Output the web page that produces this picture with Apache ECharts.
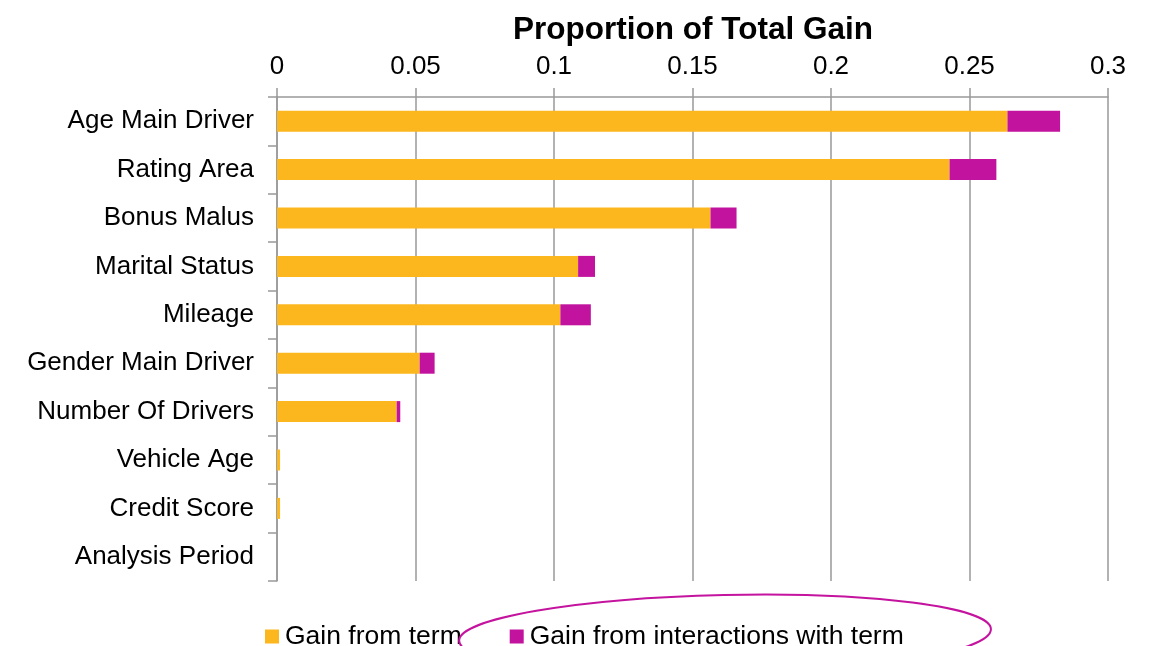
<!DOCTYPE html>
<html>
<head>
<meta charset="utf-8">
<script src="https://cdn.jsdelivr.net/npm/echarts@6/dist/echarts.min.js"></script>
<style>
  html, body { margin: 0; padding: 0; background: #ffffff; }
  #chart { width: 1155px; height: 646px; }
</style>
</head>
<body>
<div id="chart"></div>
<script>
// Variables, listed top to bottom
const categories = [
  'Age Main Driver', 'Rating Area', 'Bonus Malus', 'Marital Status', 'Mileage',
  'Gender Main Driver', 'Number Of Drivers', 'Vehicle Age', 'Credit Score', 'Analysis Period'
];
// Share of total gain coming from the term itself
const gainFromTerm = [0.2637, 0.2428, 0.1565, 0.1087, 0.1023, 0.0515, 0.0432, 0.0011, 0.0011, 0];
// Share of total gain coming from interactions involving the term
const gainFromInteractions = [0.0190, 0.0169, 0.0094, 0.0061, 0.0110, 0.0054, 0.0013, 0, 0, 0];
const xTicks = { min: 0, max: 0.3, interval: 0.05 };

const ORANGE = '#FDB71E';
const MAGENTA = '#C1139E';
const FONT = '"Liberation Sans", Arial, sans-serif';

const chart = echarts.init(document.getElementById('chart'), null, { renderer: 'canvas' });

chart.setOption({
  animation: false,
  backgroundColor: '#ffffff',
  title: {
    text: 'Proportion of Total Gain',
    left: 688,
    top: 9,
    textAlign: 'center',
    textStyle: { fontFamily: FONT, fontSize: 31.5, fontWeight: 'bold', color: '#000' }
  },
  grid: { left: 277, right: 47, top: 97, bottom: 65, containLabel: false },
  xAxis: {
    type: 'value',
    position: 'top',
    min: xTicks.min,
    max: xTicks.max,
    interval: xTicks.interval,
    axisLine: { show: true, lineStyle: { color: '#999', width: 1.5 } },
    axisTick: { show: true, length: 9, lineStyle: { color: '#999', width: 1.5 } },
    axisLabel: {
      margin: 17,
      fontFamily: FONT, fontSize: 26, color: '#000',
      formatter: v => String(+v.toFixed(2))
    },
    splitLine: { show: true, lineStyle: { color: '#999', width: 1.5 } }
  },
  yAxis: {
    type: 'category',
    inverse: true,
    data: categories,
    axisLine: { show: true, lineStyle: { color: '#999', width: 1.5 } },
    axisTick: { show: true, length: 9, lineStyle: { color: '#999', width: 1.5 } },
    axisLabel: { margin: 23, fontFamily: FONT, fontSize: 26, color: '#000' },
    splitLine: { show: false }
  },
  legend: {
    left: 260,
    top: 618,
    itemWidth: 14,
    itemHeight: 14,
    itemGap: 48,
    icon: 'rect',
    textStyle: { fontFamily: FONT, fontSize: 26.5, color: '#000', padding: [0, 0, 0, 1] },
    data: ['Gain from term', 'Gain from interactions with term']
  },
  series: [
    {
      name: 'Gain from term',
      type: 'bar',
      stack: 'gain',
      barWidth: 21,
      itemStyle: { color: ORANGE },
      data: gainFromTerm
    },
    {
      name: 'Gain from interactions with term',
      type: 'bar',
      stack: 'gain',
      barWidth: 21,
      itemStyle: { color: MAGENTA },
      data: gainFromInteractions
    }
  ],
  graphic: [
    {
      // Highlight ring drawn around the interactions legend entry
      type: 'ellipse',
      x: 725,
      y: 635,
      rotation: 0.022,
      shape: { cx: 0, cy: 0, rx: 266, ry: 40 },
      style: { fill: 'none', stroke: '#C4139E', lineWidth: 2 },
      silent: true,
      z: 100
    }
  ]
});
</script>
</body>
</html>
